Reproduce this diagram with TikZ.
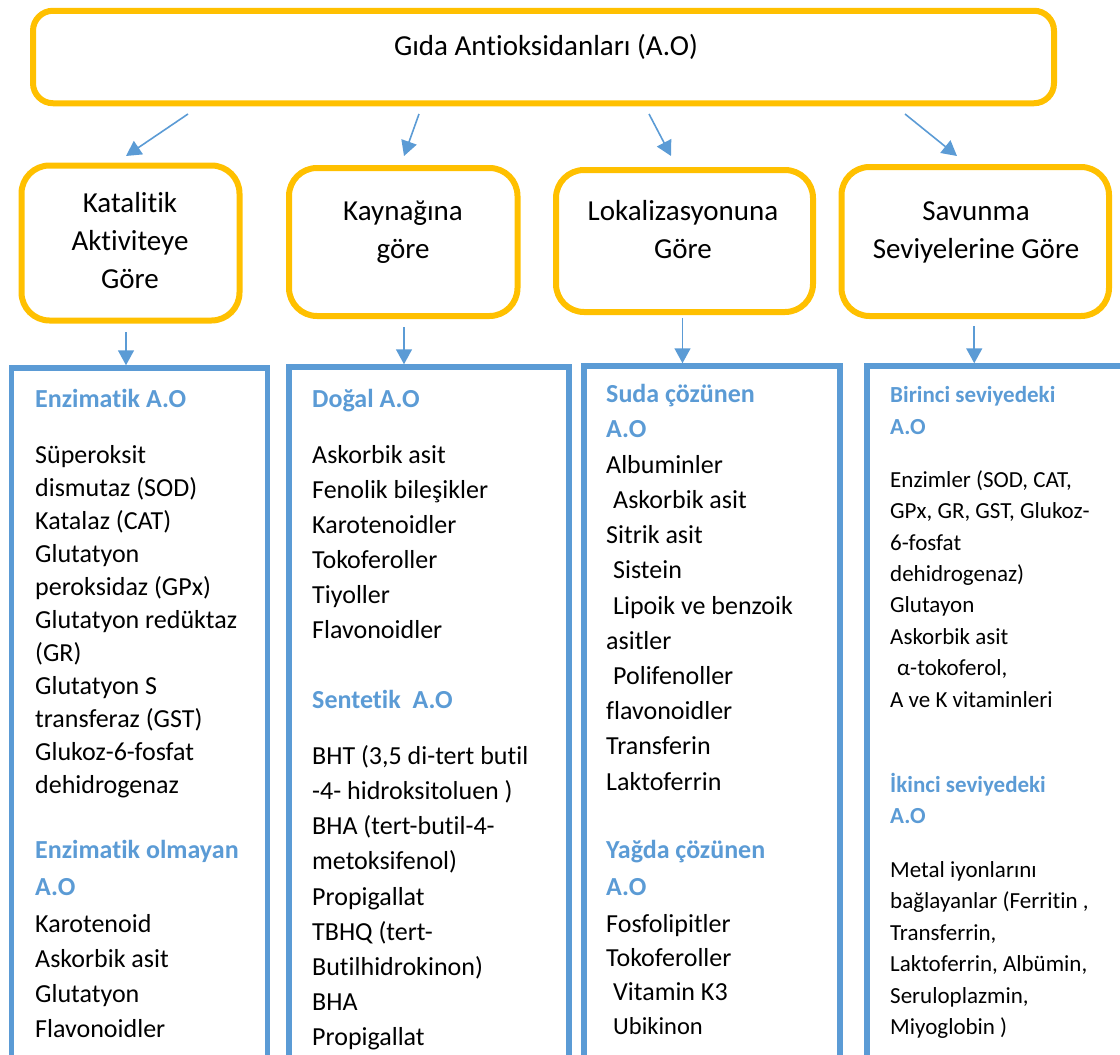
\documentclass[tikz,border=0pt]{standalone}
\usepackage{fontspec}
\setmainfont{Carlito}[Ligatures={NoCommon}]
\usetikzlibrary{arrows.meta}
\definecolor{gold}{HTML}{FFC000}
\definecolor{aoblue}{HTML}{5B9BD5}
\newcommand\firstrow{\rule{0pt}{30pt}}
\tikzset{goldbox/.style={draw=gold,line width=6pt,rounded corners=28pt,inner sep=0pt},
bluebox/.style={draw=aoblue,line width=5.5pt,inner sep=0pt},
arr/.style={draw=aoblue,line width=1.6pt,-{Triangle[length=15pt,width=16pt]}},
captext/.style={anchor=north,inner sep=0pt,align=center,font=\fontsize{29}{38}\selectfont},
head/.style={anchor=north west,inner sep=0pt,align=left,text=aoblue,font=\bfseries\fontsize{26}{#1}\selectfont},
body/.style={anchor=north west,inner sep=0pt,align=left,font=\fontsize{26}{#1}\selectfont},
headsm/.style={anchor=north west,inner sep=0pt,align=left,text=aoblue,font=\bfseries\fontsize{23}{#1}\selectfont},
bodysm/.style={anchor=north west,inner sep=0pt,align=left,font=\fontsize{23}{#1}\selectfont}}

\begin{document}
\begin{tikzpicture}[x=1pt,y=-1pt]
\useasboundingbox (0,0) rectangle (1120,1055);
\clip (0,0) rectangle (1120,1055);
% top
\node[goldbox,rounded corners=20pt,minimum width=1021pt,minimum height=92.5pt] (top) at (543.5,57) {};
\node[font=\fontsize{29}{35}\selectfont,anchor=base] (title) at (546,55) {Gıda Antioksidanları (A.O)};
% categories
\node[goldbox,minimum width=218pt,minimum height=155pt] (k1) at (130.5,243) {};
\node[goldbox,minimum width=228.5pt,minimum height=148pt] (k2) at (403.25,242) {};
\node[goldbox,minimum width=257pt,minimum height=142pt] (k3) at (684.5,241) {};
\node[goldbox,minimum width=267.5pt,minimum height=149pt] (k4) at (975.25,241.5) {};
\node[captext] (c1) at (130,182) {\firstrow Katalitik\\Aktiviteye\\Göre};
\node[captext] (c2) at (403,190) {\firstrow Kaynağına\\göre};
\node[captext] (c3) at (683,190) {\firstrow Lokalizasyonuna\\Göre};
\node[captext] (c4) at (976,190) {\firstrow Savunma\\Seviyelerine Göre};
\draw[arr] ([xshift=-355.5pt,yshift=-7.75pt]top.south) -- ([xshift=-4.5pt,yshift=6.5pt]k1.north);
\draw[arr] ([xshift=-124.5pt,yshift=-7.75pt]top.south) -- ([xshift=0.75pt,yshift=9pt]k2.north);
\draw[arr] ([xshift=105.5pt,yshift=-7.75pt]top.south) -- ([xshift=-13.5pt,yshift=11pt]k3.north);
\draw[arr] ([xshift=361.5pt,yshift=-7.75pt]top.south) -- ([xshift=-18.25pt,yshift=8pt]k4.north);
% lists
\node[bluebox,minimum width=256pt,minimum height=732pt] (b1) at (139.5,734) {};
\node[bluebox,minimum width=280pt,minimum height=733pt] (b2) at (429,733.5) {};
\node[bluebox,minimum width=256pt,minimum height=734pt] (b3) at (712,733) {};
\node[bluebox,minimum width=273pt,minimum height=734pt] (b4) at (1003.5,733) {};
\draw[arr] ([xshift=-4.5pt,yshift=-8.5pt]k1.south) -- ([xshift=-4.5pt]k1.south |- b1.north);
\draw[arr] ([xshift=0.75pt,yshift=-8pt]k2.south) -- ([xshift=0.75pt]k2.south |- b2.north);
\draw[arr] ([xshift=-2pt,yshift=-3pt]k3.south) -- ([xshift=-2pt]k3.south |- b3.north);
\draw[arr] ([xshift=-1pt,yshift=-7pt]k4.south) -- ([xshift=-1pt]k4.south |- b4.north);
% box 1
\node[head=35] (h11) at (35,377) {\firstrow Enzimatik A.O};
\node[body=33] (t11) at (35,433) {\firstrow Süperoksit\\dismutaz (SOD)\\Katalaz (CAT)\\Glutatyon\\peroksidaz (GPx)\\Glutatyon redüktaz\\(GR)\\Glutatyon S\\transferaz (GST)\\Glukoz-6-fosfat\\dehidrogenaz};
\node[head=37] (h12) at (35,828) {\firstrow Enzimatik olmayan\\A.O};
\node[body=35] (t12) at (35,902) {\firstrow Karotenoid\\Askorbik asit\\Glutatyon\\Flavonoidler};
% box 2
\node[head=35] (h21) at (312,377) {\firstrow Doğal A.O};
\node[body=35] (t21) at (312,433) {\firstrow Askorbik asit\\Fenolik bileşikler\\Karotenoidler\\Tokoferoller\\Tiyoller\\Flavonoidler};
\node[head=35] (h22) at (312,678) {\firstrow Sentetik\ \ A.O};
\node[body=35.2] (t22) at (312,734) {\firstrow BHT (3,5 di-tert butil\\-4- hidroksitoluen )\\BHA (tert-butil-4-\\metoksifenol)\\Propigallat\\TBHQ (tert-\\Butilhidrokinon)\\BHA\\Propigallat};
% box 3
\node[head=35] (h31) at (606,372) {\firstrow Suda çözünen\\A.O};
\node[body=35.2] (t31) at (606,443) {\firstrow Albuminler\\\hspace*{7pt}Askorbik asit\\Sitrik asit\\\hspace*{7pt}Sistein\\\hspace*{7pt}Lipoik ve benzoik\\asitler\\\hspace*{7pt}Polifenoller\\flavonoidler\\Transferin\\Laktoferrin};
\node[head=37] (h32) at (606,828) {\firstrow Yağda çözünen\\A.O};
\node[body=34] (t32) at (606,902) {\firstrow Fosfolipitler\\Tokoferoller\\\hspace*{7pt}Vitamin K3\\{\fontsize{24.5}{28}\selectfont\hspace*{7pt}Ubikinon}};
% box 4
\node[headsm=32] (h41) at (890,372) {\firstrow Birinci seviyedeki\\A.O};
\node[bodysm=31.4] (t41) at (890,457) {\firstrow Enzimler (SOD, CAT,\\GPx, GR, GST, Glukoz-\\6-fosfat\\dehidrogenaz)\\Glutayon\\Askorbik asit\\\hspace*{7pt}α-tokoferol,\\A ve K vitaminleri};
\node[headsm=31] (h42) at (890,762) {\firstrow İkinci seviyedeki\\A.O};
\node[bodysm=31.5] (t42) at (890,847) {\firstrow Metal iyonlarını\\bağlayanlar (Ferritin ,\\Transferrin,\\Laktoferrin, Albümin,\\Seruloplazmin,\\Miyoglobin )};
\end{tikzpicture}
\end{document}
